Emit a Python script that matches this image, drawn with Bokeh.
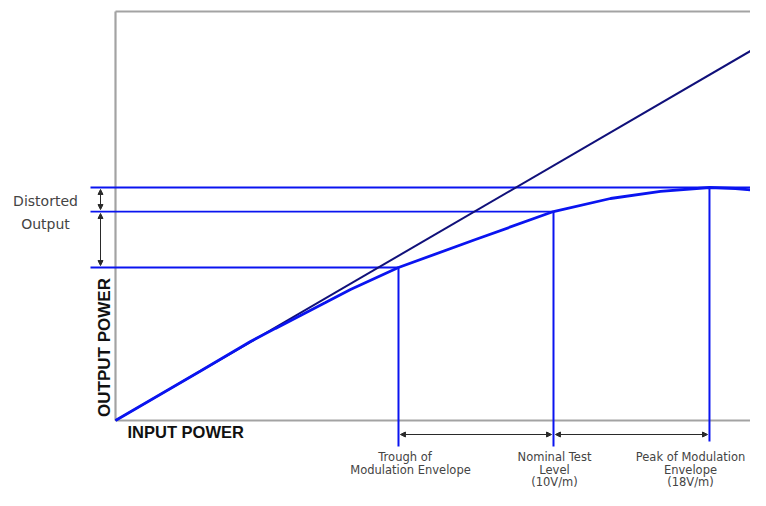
from math import pi
from bokeh.plotting import figure
from bokeh.models import Range1d, Arrow, NormalHead
from bokeh.core.properties import value
from bokeh.embed import file_html
from bokeh.resources import INLINE

# ---- data (arbitrary power units) ----
input_curve = [0, 1.306, 2.074, 2.458, 2.842, 3.226, 3.610, 4.347, 5.530, 6.728, 7.604, 8.372, 9.124, 9.524, 10.0]
output_curve = [0, 0.760, 1.213, 1.415, 1.613, 1.812, 2.012, 2.350, 2.780, 3.210, 3.410, 3.518, 3.579, 3.564, 3.518]
linear_x = [0, 10.0]
linear_y = [0, 5.82]
level_names = ["Trough", "Nominal", "Peak"]
level_x = [4.347, 6.728, 9.124]
level_y = [2.350, 3.210, 3.579]
bottom_labels = [["Trough    of", "Modulation Envelope"],
                 ["Nominal Test", "Level", "(10V/m)"],
                 ["Peak of Modulation", "Envelope", "(18V/m)"]]
side_label = ["Distorted", "Output"]
x_title = "INPUT POWER"
y_title = "OUTPUT POWER"

# ---- geometry: 1 unit = S px, origin at canvas pixel (115, 420) ----
S = 65.1
OX, OY = 115, 420
W, H = 750, 490
def dx(px):  # canvas px -> data x
    return (px - OX) / S
def dy(py):
    return (OY - py) / S

p = figure(width=W, height=H, output_backend="svg", toolbar_location=None,
           x_range=Range1d(dx(0), dx(W)), y_range=Range1d(dy(H), dy(0)),
           min_border=0, outline_line_color=None)
p.xaxis.visible = False
p.yaxis.visible = False
p.xgrid.visible = False
p.ygrid.visible = False

BLUE = "#0a14f0"
NAVY = "#10107a"
GRAY = "#a3a3a3"
DARK = "#2a2a2a"
TXT = "#444444"

# frame box (left, top, bottom)
top = dy(11)
p.line([0, 0], [0, top], line_color=GRAY, line_width=2.2)
p.line([0, 11], [top, top], line_color=GRAY, line_width=2.2)
p.line([0, 11], [0, 0], line_color=GRAY, line_width=2.2)

# horizontal level lines
hx0 = dx(90)
ends = [level_x[0], level_x[1], 11]
for lx, ly in zip(ends, level_y):
    p.line([hx0, lx], [ly, ly], line_color=BLUE, line_width=1.8)

# vertical level lines
vbottoms = [dy(446), dy(446), dy(441)]
for lx, ly, vb in zip(level_x, level_y, vbottoms):
    p.line([lx, lx], [ly, vb], line_color=BLUE, line_width=2)

# ideal linear response
p.line(linear_x, linear_y, line_color=NAVY, line_width=2)
# compressed amplifier response
p.line(input_curve, output_curve, line_color=BLUE, line_width=2.8)

# horizontal dimension arrows
ay = dy(434)
g = 0.03
for a, b in [(level_x[0], level_x[1]), (level_x[1], level_x[2])]:
    p.add_layout(Arrow(start=NormalHead(size=5, fill_color=DARK, line_color=DARK),
                       end=NormalHead(size=5, fill_color=DARK, line_color=DARK),
                       x_start=a + g, y_start=ay, x_end=b - g, y_end=ay,
                       line_color=DARK, line_width=1))
# vertical dimension arrows
ax = dx(100)
for a, b in [(level_y[2], level_y[1]), (level_y[1], level_y[0])]:
    p.add_layout(Arrow(start=NormalHead(size=5, fill_color=DARK, line_color=DARK),
                       end=NormalHead(size=5, fill_color=DARK, line_color=DARK),
                       x_start=ax, y_start=a - g, x_end=ax, y_end=b + g,
                       line_color=DARK, line_width=1))

# side label
p.text(x=[dx(45), dx(45)], y=[dy(200), dy(223)], text=side_label,
       text_font=value("DejaVu Sans"), text_font_size="14px", text_color=TXT,
       text_align="center", text_baseline="middle")

# axis titles
p.text(x=[dx(127)], y=[dy(431)], text=[x_title],
       text_font=value("Liberation Sans"), text_font_style="bold",
       text_font_size="16.5px", text_color="#111111",
       text_align="left", text_baseline="middle")
p.text(x=[dx(104)], y=[dy(347)], text=[y_title], angle=pi / 2,
       text_font=value("Liberation Sans"), text_font_style="bold",
       text_font_size="17px", text_color="#111111",
       text_align="center", text_baseline="middle")

# bottom labels
centers = [410, 554, 690]
rows = [456, 469, 481]
bx, by, bt = [], [], []
for c, lines in zip(centers, bottom_labels):
    for r, t in zip(rows, lines):
        bx.append(dx(c)); by.append(dy(r)); bt.append(t)
p.text(x=bx, y=by, text=bt, text_font=value("DejaVu Sans"), text_font_size="11.5px",
       text_color=TXT, text_align="center", text_baseline="middle")

open("out.html", "w").write(file_html(p, INLINE))
